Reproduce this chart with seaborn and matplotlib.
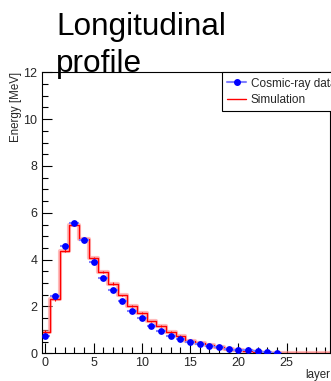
import numpy as np
import pandas as pd
import matplotlib
matplotlib.use("Agg")
import matplotlib.pyplot as plt
import seaborn as sns
from matplotlib.ticker import MultipleLocator
from matplotlib.lines import Line2D

sns.set_theme(style="white")
plt.rcParams['font.family'] = ['Liberation Sans', 'DejaVu Sans']

# ---- data ----
data_layers = list(range(0, 25))
data_energy = [0.74, 2.45, 4.58, 5.58, 4.83, 3.90, 3.21, 2.70, 2.24, 1.81,
               1.50, 1.17, 0.94, 0.76, 0.61, 0.50, 0.40, 0.31, 0.26, 0.20,
               0.16, 0.13, 0.09, 0.06, 0.03]
sim_layers = list(range(0, 30))
sim_energy = [0.93, 2.31, 4.38, 5.50, 4.88, 4.07, 3.47, 2.98, 2.47, 2.01,
              1.73, 1.37, 1.17, 0.91, 0.75, 0.54, 0.43, 0.34, 0.27, 0.20,
              0.16, 0.11, 0.07, 0.03, 0.01, 0.0, 0.0, 0.0, 0.0, 0.0]
sim_err = [0.06, 0.06, 0.06, 0.06, 0.06, 0.05, 0.05, 0.05, 0.04, 0.04,
           0.04, 0.03, 0.03, 0.03, 0.03, 0.02, 0.02, 0.02, 0.02, 0.02,
           0.01, 0.01, 0.01, 0.01, 0.0, 0.0, 0.0, 0.0, 0.0, 0.0]

title_text = "Longitudinal\nprofile"
x_label = "layer"
y_label = "Energy [MeV]"
legend_labels = ["Cosmic-ray data", "Simulation"]

df_data = pd.DataFrame({"layer": data_layers, "energy": data_energy})
df_sim = pd.DataFrame({"layer": sim_layers, "energy": sim_energy, "err": sim_err})

fig = plt.figure(figsize=(3.31, 3.81), dpi=100)
ax = fig.add_axes([41.7 / 331, 1 - 353.3 / 381, (330 - 41.7) / 331, (353.3 - 72.3) / 381])

# simulation histogram (step)
sns.histplot(data=df_sim, x="layer", weights="energy", discrete=True,
             element="step", fill=False, color="#ff9090", linewidth=3.0,
             alpha=0.6, ax=ax)
sns.histplot(data=df_sim, x="layer", weights="energy", discrete=True,
             element="step", fill=False, color="red", linewidth=1.0, ax=ax)
ax.errorbar(df_sim["layer"], df_sim["energy"], yerr=df_sim["err"], fmt="none",
            ecolor="red", elinewidth=0.8)

# data points
ax.errorbar(df_data["layer"], df_data["energy"], xerr=0.5, fmt="none",
            ecolor="#7f7fff", elinewidth=1.5)
sns.scatterplot(data=df_data, x="layer", y="energy", color="blue", s=24,
                edgecolor="blue", linewidth=0, ax=ax, zorder=5)

ax.set_xlim(-0.37, 29.5)
ax.set_ylim(0, 12)
ax.xaxis.set_major_locator(MultipleLocator(5))
ax.xaxis.set_minor_locator(MultipleLocator(1))
ax.yaxis.set_major_locator(MultipleLocator(2))
ax.yaxis.set_minor_locator(MultipleLocator(0.5))
ax.tick_params(axis="both", which="major", direction="in", length=7, width=0.8,
               color="black", labelsize=9, pad=3, bottom=True, left=True)
ax.tick_params(axis="both", which="minor", direction="in", length=4, width=0.8,
               color="black", bottom=True, left=True)
for sp in ax.spines.values():
    sp.set_color("black")
    sp.set_linewidth(0.8)
ax.grid(False)

ax.set_xlabel(x_label, loc="right", fontsize=8.3, labelpad=0)
ax.set_ylabel(y_label, loc="top", fontsize=8.3, labelpad=1)

# legend
handles = [Line2D([0], [0], color="#7f7fff", lw=1.5, marker="o", markersize=4,
                  markerfacecolor="blue", markeredgecolor="blue"),
           Line2D([0], [0], color="red", lw=1.0)]
leg = ax.legend(handles, legend_labels, loc="upper left",
                bbox_to_anchor=(0.625, 1.0), fontsize=8.5, frameon=True,
                fancybox=False, framealpha=1, edgecolor="black",
                borderpad=0.45, handlelength=1.6, handletextpad=0.4,
                labelspacing=0.35, borderaxespad=0)
leg.get_frame().set_linewidth(0.8)

fig.text(56 / 331, 1 - 11.5 / 381, title_text, fontsize=22.7, ha="left",
         va="top", color="black", linespacing=1.33)

fig.savefig("out.png", dpi=100)
